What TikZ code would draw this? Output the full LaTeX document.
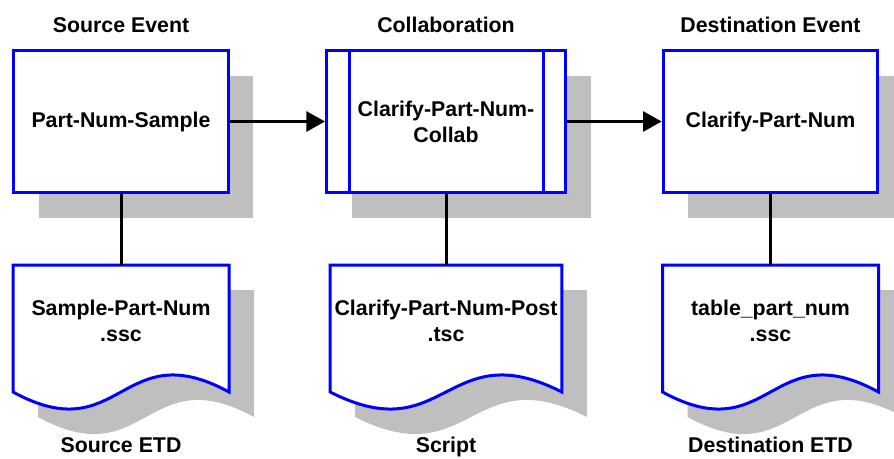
\documentclass[tikz,border=0pt]{standalone}
\usepackage{fontspec}
\setmainfont{Liberation Sans}
\usetikzlibrary{calc,arrows.meta,shadows,backgrounds}

% outline of a document node, shifted by #2 (pixels, right and down)
\newcommand{\docpath}[2]{%
  ($(#1.north west)+(#2,#2)$) -- ($(#1.north east)+(#2,#2)$)
  -- ($(#1.south east)+(#2,#2+16)$)
  .. controls ($(#1.south)+(#2,#2-43)$) and ($(#1.south)+(#2,#2+75)$)
  .. ($(#1.south west)+(#2,#2+16)$) -- cycle}

\begin{document}
\begin{tikzpicture}[x=0.75pt, y=-0.75pt,
    every node/.style={font=\bfseries\fontsize{16}{19.5}\selectfont, align=center},
    eventbox/.style={draw=blue, fill=white, line width=2.25pt,
      minimum width=161pt, minimum height=106.5pt,
      drop shadow={shadow xshift=18.75pt, shadow yshift=-18.75pt, fill=gray!50, opacity=1}},
    collabbox/.style={eventbox, minimum width=179.25pt},
    docbox/.style={minimum width=162pt, minimum height=83.25pt, outer sep=0pt},
    docline/.style={draw=blue, fill=white, line width=2.25pt},
    docshadow/.style={fill=gray!50},
    flow/.style={-{Triangle[length=14pt,width=15pt]}, line width=2.25pt},
    link/.style={line width=2.25pt},
    caption/.style={anchor=base}]
      \useasboundingbox (0,0) rectangle (894,458);

      % events and collaboration
      \node[eventbox] (src) at (121,121.5) {Part-Num-Sample};
      \node[collabbox] (collab) at (446,121.5) {Clarify-Part-Num-\\Collab};
      \node[eventbox] (dst) at (770.5,121.5) {Clarify-Part-Num};
      \draw[draw=blue, line width=2.25pt] ($(collab.north west)+(24,0)$) -- ($(collab.south west)+(24,0)$);
      \draw[draw=blue, line width=2.25pt] ($(collab.north east)+(-24,0)$) -- ($(collab.south east)+(-24,0)$);

      % documents
      \node[docbox] (srcdoc) at (121,320.5) {Sample-Part-Num\\.ssc};
      \node[docbox] (scriptdoc) at (446,320.5) {Clarify-Part-Num-Post\\.tsc};
      \node[docbox] (dstdoc) at (770.5,320.5) {table\_part\_num\\.ssc};
      \begin{scope}[on background layer]
        \fill[docshadow] \docpath{srcdoc}{25};
        \draw[docline] \docpath{srcdoc}{0};
        \fill[docshadow] \docpath{scriptdoc}{25};
        \draw[docline] \docpath{scriptdoc}{0};
        \fill[docshadow] \docpath{dstdoc}{25};
        \draw[docline] \docpath{dstdoc}{0};
      \end{scope}

      % captions
      \node[caption] (srccap) at (121,32) {Source Event};
      \node[caption] (collabcap) at (446,32) {Collaboration};
      \node[caption] (dstcap) at (770.5,32) {Destination Event};
      \node[caption] (srcetd) at (121,452) {Source ETD};
      \node[caption] (scriptcap) at (446,452) {Script};
      \node[caption] (dstetd) at (770.5,452) {Destination ETD};

      % connectors
      \draw[flow] (src) -- (collab);
      \draw[flow] (collab) -- (dst);
      \draw[link] (src) -- (srcdoc);
      \draw[link] (collab) -- (scriptdoc);
      \draw[link] (dst) -- (dstdoc);
    \end{tikzpicture}
\end{document}
